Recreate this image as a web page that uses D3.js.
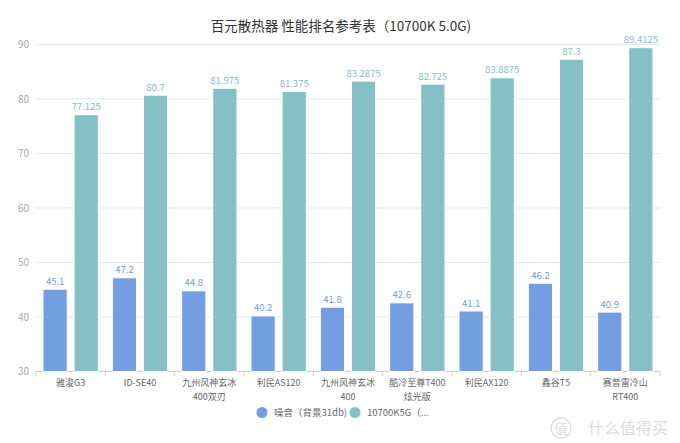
<!DOCTYPE html>
<html><head><meta charset="utf-8">
<script src="https://cdn.jsdelivr.net/npm/d3@7"></script>
<style>body{margin:0;background:#fff;} svg{display:block;font-family:"Noto Sans CJK SC","Noto Sans",sans-serif;}</style>
</head><body>
<svg id="c" width="680" height="443"></svg>
<script>
const categories = ["雅浚G3","ID-SE40","九州风神玄冰\n400双刃","利民AS120","九州风神玄冰\n400","酷冷至尊T400\n炫光版","利民AX120","鑫谷T5","赛普雷冷山\nRT400"];
const noise = [45.1,47.2,44.8,40.2,41.8,42.6,41.1,46.2,40.9];
const perf = [77.125,80.7,81.975,81.375,83.2875,82.725,83.8875,87.3,89.4125];
const seriesNames = ["噪音（背景31db)","10700K5G（..."];
const yTicks = [30,40,50,60,70,80,90];
const colors = ["#739ee1","#84c0c6"];

(function(){
const svg = d3.select("#c");
const L=36, R=660, T=44.5, B=371.5;
const x = d3.scaleBand().domain(d3.range(categories.length)).range([L,R]);
const y = d3.scaleLinear().domain([30,90]).range([B,T]);
const inner = d3.scaleBand().domain([0,1]).range([7, x.bandwidth()-7]).paddingInner(0.22);

svg.append("text").attr("x",341).attr("y",31).attr("text-anchor","middle")
  .attr("font-size",13.5).attr("fill","#333").text("百元散热器 性能排名参考表（10700K 5.0G)");

svg.append("g").selectAll("line").data(yTicks).join("line")
  .attr("x1",L).attr("x2",R).attr("y1",d=>y(d)).attr("y2",d=>y(d))
  .attr("stroke",d=>d===30?"#cccccc":"#e6e6e6").attr("stroke-width",1);
svg.append("g").selectAll("text").data(yTicks).join("text")
  .attr("x",L-7).attr("y",d=>y(d)+3.5).attr("text-anchor","end")
  .attr("font-size",10).attr("fill","#aaa").text(d=>d);

svg.append("g").selectAll("line").data(d3.range(categories.length+1)).join("line")
  .attr("x1",i=>i<categories.length?x(i):R).attr("x2",i=>i<categories.length?x(i):R)
  .attr("y1",B).attr("y2",B+5).attr("stroke","#ccc");

[noise,perf].forEach((vals,s)=>{
  const g=svg.append("g");
  g.selectAll("rect").data(vals).join("rect")
    .attr("x",(d,i)=>x(i)+inner(s)).attr("width",inner.bandwidth())
    .attr("y",d=>y(d)).attr("height",d=>B-y(d))
    .attr("fill",colors[s]).attr("stroke","#fff").attr("stroke-width",1);
  g.selectAll("text").data(vals).join("text")
    .attr("x",(d,i)=>x(i)+inner(s)+inner.bandwidth()/2).attr("y",d=>y(d)-4.5)
    .attr("text-anchor","middle").attr("font-size",9.5).attr("fill",colors[s]).text(d=>d);
});

const xl=svg.append("g");
categories.forEach((c,i)=>{
  const cx=x(i)+x.bandwidth()/2;
  const t=xl.append("text").attr("x",cx).attr("y",386)
    .attr("text-anchor","middle").attr("font-size",9).attr("fill","#666");
  c.split("\n").forEach((line,j)=>t.append("tspan").attr("x",cx).attr("dy",j?13.5:0).text(line));
});

const lx=[262,355];
seriesNames.forEach((n,i)=>{
  svg.append("circle").attr("cx",lx[i]).attr("cy",412.5).attr("r",5.5).attr("fill",colors[i]);
  svg.append("text").attr("x",lx[i]+12).attr("y",416).attr("font-size",9.5).attr("fill","#666").text(n);
});

svg.append("circle").attr("cx",561).attr("cy",428).attr("r",10).attr("fill","none").attr("stroke","#ddd").attr("stroke-width",1.5);
svg.append("text").attr("x",561).attr("y",433).attr("text-anchor","middle").attr("font-size",13).attr("fill","#ddd").text("值");
svg.append("text").attr("x",588).attr("y",434).attr("font-size",16).attr("fill","#ddd").text("什么值得买");
})();
</script>
</body></html>
